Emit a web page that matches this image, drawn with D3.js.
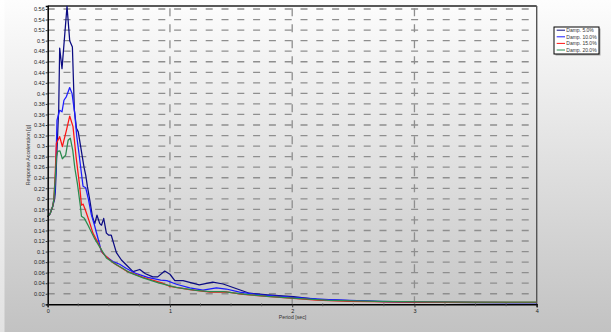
<!DOCTYPE html>
<html>
<head>
<meta charset="utf-8">
<script src="https://cdn.jsdelivr.net/npm/d3@7"></script>
<style>
  html, body { margin: 0; padding: 0; background: #fff; }
  svg { display: block; font-family: "Liberation Sans", Arial, sans-serif; }
</style>
</head>
<body>
<div id="chart"></div>
<script>
// response spectra, [period (s), acceleration (g)]
const damp05 = [
	[0, 0.166], [0.02, 0.172], [0.04, 0.185], [0.057, 0.200], [0.063, 0.217], [0.076, 0.293],
	[0.09, 0.369], [0.098, 0.486], [0.117, 0.447], [0.158, 0.565], [0.18, 0.500], [0.202, 0.488],
	[0.218, 0.369], [0.235, 0.334], [0.25, 0.327], [0.276, 0.290], [0.297, 0.260], [0.311, 0.245],
	[0.325, 0.223], [0.344, 0.198], [0.366, 0.166], [0.385, 0.153], [0.403, 0.169], [0.426, 0.153],
	[0.44, 0.150], [0.458, 0.163], [0.48, 0.135], [0.5, 0.131], [0.52, 0.131], [0.548, 0.109],
	[0.562, 0.098], [0.603, 0.084], [0.644, 0.0745], [0.698, 0.062], [0.753, 0.066], [0.80, 0.058],
	[0.86, 0.052], [0.90, 0.052], [0.957, 0.063], [1.0, 0.057], [1.04, 0.045], [1.107, 0.045],
	[1.24, 0.037], [1.35, 0.042], [1.435, 0.0385], [1.54, 0.030], [1.65, 0.021], [1.8, 0.018],
	[2.01, 0.0144], [2.2, 0.0095], [2.47, 0.0068], [2.74, 0.005], [3.02, 0.004], [3.5, 0.0032], [4.0, 0.003]
];
const damp10 = [
	[0, 0.166], [0.02, 0.172], [0.04, 0.185], [0.05, 0.198], [0.06, 0.215], [0.068, 0.270],
	[0.076, 0.349], [0.098, 0.368], [0.117, 0.365], [0.133, 0.387], [0.153, 0.394], [0.18, 0.411],
	[0.199, 0.400], [0.221, 0.362], [0.238, 0.318], [0.256, 0.286], [0.276, 0.248], [0.289, 0.224],
	[0.311, 0.221], [0.334, 0.198], [0.357, 0.170], [0.385, 0.148], [0.417, 0.120], [0.44, 0.100],
	[0.48, 0.090], [0.534, 0.081], [0.589, 0.076], [0.644, 0.068], [0.726, 0.058], [0.818, 0.051],
	[0.925, 0.046], [0.974, 0.045], [1.053, 0.038], [1.162, 0.031], [1.27, 0.027], [1.38, 0.031],
	[1.46, 0.029], [1.57, 0.023], [1.73, 0.018], [2.0, 0.0133], [2.3, 0.009], [2.7, 0.0055],
	[3.1, 0.004], [3.5, 0.0035], [4.0, 0.003]
];
const damp15 = [
	[0, 0.166], [0.02, 0.172], [0.04, 0.185], [0.05, 0.198], [0.06, 0.240], [0.071, 0.305],
	[0.098, 0.318], [0.12, 0.299], [0.153, 0.330], [0.18, 0.357], [0.207, 0.337], [0.232, 0.280],
	[0.262, 0.223], [0.276, 0.188], [0.29, 0.190], [0.311, 0.177], [0.336, 0.160], [0.37, 0.135],
	[0.41, 0.117], [0.45, 0.097], [0.534, 0.079], [0.644, 0.063], [0.78, 0.051], [0.94, 0.040],
	[1.0, 0.034], [1.16, 0.028], [1.33, 0.023], [1.46, 0.0235], [1.6, 0.019], [1.79, 0.0148],
	[2.01, 0.0114], [2.2, 0.008], [2.47, 0.0055], [3.02, 0.004], [4.0, 0.0035]
];
const damp20 = [
	[0, 0.166], [0.02, 0.172], [0.04, 0.185], [0.05, 0.198], [0.062, 0.240], [0.072, 0.280],
	[0.082, 0.290], [0.1, 0.291], [0.12, 0.276], [0.147, 0.283], [0.167, 0.311], [0.185, 0.315],
	[0.205, 0.292], [0.222, 0.258], [0.243, 0.229], [0.268, 0.185], [0.276, 0.167], [0.3, 0.163],
	[0.33, 0.150], [0.385, 0.124], [0.43, 0.107], [0.48, 0.088], [0.562, 0.075], [0.616, 0.068],
	[0.671, 0.060], [0.78, 0.050], [0.9, 0.041], [1.05, 0.032], [1.2, 0.027], [1.32, 0.024],
	[1.44, 0.024], [1.6, 0.0195], [1.8, 0.0148], [2.0, 0.0118], [2.3, 0.0075], [2.7, 0.0055],
	[3.1, 0.0045], [3.5, 0.004], [4.0, 0.0042]
];

const seriesNames  = ['Damp. 5.0%', 'Damp. 10.0%', 'Damp. 15.0%', 'Damp. 20.0%'];
const seriesColors = ['#0c0c82', '#1c1cff', '#ff1414', '#2a8a4e'];
const xTicks = [0, 1, 2, 3, 4];
const yTicks = [0, 0.02, 0.04, 0.06, 0.08, 0.1, 0.12, 0.14, 0.16, 0.18, 0.2, 0.22, 0.24, 0.26,
	0.28, 0.3, 0.32, 0.34, 0.36, 0.38, 0.4, 0.42, 0.44, 0.46, 0.48, 0.5, 0.52, 0.54, 0.56];

const width = 611, height = 332;
const plot = {left: 47.7, right: 536.7, top: 6, bottom: 304.3};

const x = d3.scaleLinear().domain([0, 4]).range([plot.left, plot.right]);
const y = d3.scaleLinear().domain([0, 0.5657]).range([plot.bottom, plot.top]);

const svg = d3.select('#chart').append('svg')
	.attr('width', width)
	.attr('height', height);

const defs = svg.append('defs');
const bg = defs.append('linearGradient').attr('id', 'bg')
	.attr('x1', 0).attr('y1', 0).attr('x2', 0).attr('y2', 1);
bg.append('stop').attr('offset', '0%').attr('stop-color', '#fdfdfd');
bg.append('stop').attr('offset', '100%').attr('stop-color', '#c2c2c2');
const bgLeft = defs.append('linearGradient').attr('id', 'bgLeft')
	.attr('x1', 0).attr('y1', 0).attr('x2', 0).attr('y2', 1);
bgLeft.append('stop').attr('offset', '0%').attr('stop-color', '#ffffff');
bgLeft.append('stop').attr('offset', '100%').attr('stop-color', '#e2e2e2');

svg.append('rect').attr('width', width).attr('height', height).attr('fill', 'url(#bg)');
svg.append('rect').attr('width', 4.5).attr('height', height).attr('fill', 'url(#bgLeft)');

// grid
const grid = svg.append('g');
grid.selectAll('line.h')
	.data(yTicks.filter(d => d > 0))
	.enter().append('line')
	.attr('class', 'h')
	.attr('x1', plot.left).attr('x2', plot.right)
	.attr('y1', d => y(d)).attr('y2', d => y(d))
	.attr('stroke', '#8e8e8e')
	.attr('stroke-width', 1.3)
	.attr('stroke-dasharray', '7,8.8');
grid.selectAll('line.v')
	.data(xTicks.filter(d => d > 0 && d < 4))
	.enter().append('line')
	.attr('class', 'v')
	.attr('x1', d => x(d)).attr('x2', d => x(d))
	.attr('y1', plot.bottom).attr('y2', plot.top)
	.attr('stroke', '#8e8e8e')
	.attr('stroke-width', 1.3)
	.attr('stroke-dasharray', '8,8');

// frame top / right
svg.append('line').attr('x1', plot.left).attr('x2', plot.right).attr('y1', plot.top).attr('y2', plot.top)
	.attr('stroke', '#222').attr('stroke-width', 1.4);
svg.append('line').attr('x1', plot.right).attr('x2', plot.right).attr('y1', plot.top).attr('y2', plot.bottom)
	.attr('stroke', '#555').attr('stroke-width', 1.4);

// curves
const line = d3.line().x(d => x(d[0])).y(d => y(d[1]));
const allSeries = [damp05, damp10, damp15, damp20];
svg.append('g').selectAll('path')
	.data(allSeries)
	.enter().append('path')
	.attr('d', line)
	.attr('fill', 'none')
	.attr('stroke', (d, i) => seriesColors[i])
	.attr('stroke-width', 1.25)
	.attr('stroke-linejoin', 'round');

// axes
const fmt = v => String(+v.toFixed(2));
const yAxis = svg.append('g')
	.attr('transform', `translate(${plot.left},0)`)
	.call(d3.axisLeft(y).tickValues(yTicks).tickFormat(fmt).tickSize(2).tickPadding(1));
const xAxis = svg.append('g')
	.attr('transform', `translate(0,${plot.bottom})`)
	.call(d3.axisBottom(x).tickValues(xTicks).tickFormat(d3.format('d')).tickSize(3).tickPadding(2));

[xAxis, yAxis].forEach(a => {
	a.select('.domain').attr('stroke', '#000').attr('stroke-width', 1.5);
	a.selectAll('.tick line').attr('stroke', '#333');
	a.selectAll('.tick text')
		.style('font-family', '"Liberation Sans", Arial, sans-serif')
		.style('font-size', '5.5px')
		.attr('fill', '#222');
});

// minor x ticks every 0.25
svg.append('g').selectAll('line')
	.data(d3.range(0.25, 4, 0.25).filter(d => d % 1 !== 0))
	.enter().append('line')
	.attr('x1', d => x(d)).attr('x2', d => x(d))
	.attr('y1', plot.bottom - 1).attr('y2', plot.bottom + 2)
	.attr('stroke', '#555').attr('stroke-width', 0.8);

// axis titles
svg.append('text')
	.attr('transform', `translate(29.5,155) rotate(-90)`)
	.attr('text-anchor', 'middle')
	.style('font-size', '5.2px')
	.attr('fill', '#333')
	.text('Response Acceleration [g]');
svg.append('text')
	.attr('x', 292.5)
	.attr('y', 319)
	.attr('text-anchor', 'middle')
	.style('font-size', '5.2px')
	.attr('fill', '#333')
	.text('Period [sec]');

// legend
const legend = svg.append('g').attr('transform', 'translate(554,27)');
legend.append('rect').attr('x', 1.5).attr('y', 1.5).attr('width', 45).attr('height', 27)
	.attr('fill', '#a8a8a8');
legend.append('rect').attr('x', 0).attr('y', 0).attr('width', 45).attr('height', 27)
	.attr('fill', '#fff').attr('stroke', '#000').attr('stroke-width', 1);
const items = legend.selectAll('g.item')
	.data(seriesNames)
	.enter().append('g')
	.attr('class', 'item')
	.attr('transform', (d, i) => `translate(0,${3.2 + i * 6.6})`);
items.append('line')
	.attr('x1', 2.7).attr('x2', 11)
	.attr('y1', 0).attr('y2', 0)
	.attr('stroke', (d, i) => seriesColors[i])
	.attr('stroke-width', 1);
items.append('text')
	.attr('x', 12.3)
	.attr('y', 1.8)
	.style('font-size', '5px')
	.attr('fill', '#333')
	.text(d => d);
</script>
</body>
</html>
